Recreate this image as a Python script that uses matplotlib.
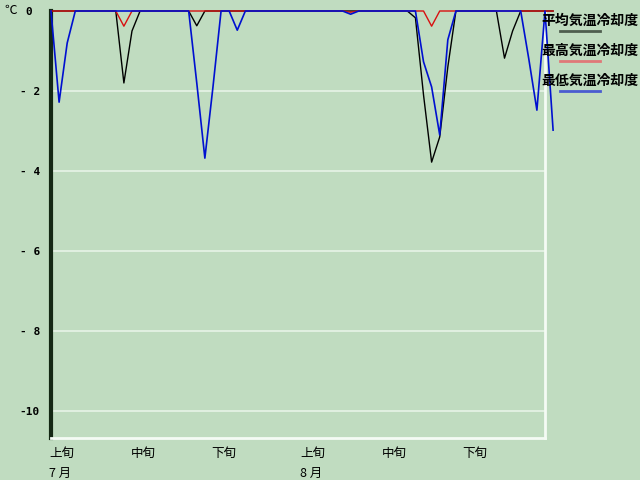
import numpy as np
import matplotlib.pyplot as plt
from matplotlib.lines import Line2D

# day index 0 = 7/1 ... 62 = 9/1
days = np.arange(63)

mean_cool = [0] * 63
mean_cool[9] = -1.8
mean_cool[10] = -0.5
mean_cool[18] = -0.37
mean_cool[45] = -0.17
mean_cool[46] = -2.1
mean_cool[47] = -3.78
mean_cool[48] = -3.15
mean_cool[49] = -1.4
mean_cool[56] = -1.18
mean_cool[57] = -0.5

max_cool = [0] * 63
max_cool[9] = -0.38
max_cool[37] = -0.03
max_cool[47] = -0.38

min_cool = [0] * 63
min_cool[1] = -2.28
min_cool[2] = -0.8
min_cool[18] = -1.8
min_cool[19] = -3.68
min_cool[20] = -1.9
min_cool[23] = -0.48
min_cool[37] = -0.08
min_cool[46] = -1.27
min_cool[47] = -1.9
min_cool[48] = -3.1
min_cool[49] = -0.72
min_cool[59] = -1.2
min_cool[60] = -2.48
min_cool[62] = -2.98

series_names = ['平均気温冷却度', '最高気温冷却度', '最低気温冷却度']
series_colors = ['#000000', '#d81010', '#0010d0']
legend_colors = ['#4e5e4e', '#e07878', '#4a5cd0']

jun_pos = [0, 10, 20, 31, 41, 51]
jun_labels = ['上旬', '中旬', '下旬', '上旬', '中旬', '下旬']
month_pos = [0, 31]
month_labels = ['7 月', '8 月']

yticks = [0, -2, -4, -6, -8, -10]
ytick_labels = ['0 ', '- 2', '- 4', '- 6', '- 8', '-10']

bg = '#c0dcc0'
cjk = ['Noto Sans CJK JP', 'DejaVu Sans']

fig = plt.figure(figsize=(6.4, 4.8), dpi=100, facecolor=bg)
ax = fig.add_axes([51 / 640, 1 - 438 / 480, 494 / 640, 427 / 480])
ax.set_facecolor(bg)

for y in yticks[1:]:
    ax.axhline(y, color='#e4f2e4', linewidth=1.3, zorder=1)

for vals, c, lw in zip([mean_cool, max_cool, min_cool], series_colors, [1.0, 1.0, 1.2]):
    ax.plot(days, vals, color=c, linewidth=lw, clip_on=False, zorder=3)

ax.set_xlim(0, 61)
ax.set_ylim(-10.68, 0)

ax.set_yticks(yticks)
ax.set_yticklabels(ytick_labels, fontfamily='DejaVu Sans Mono', fontweight='bold', fontsize=8)
ax.set_xticks([])
ax.tick_params(axis='y', length=0, pad=8)

for p, lab in zip(jun_pos, jun_labels):
    ax.text(p - 0.2, -0.022, lab, transform=ax.get_xaxis_transform(), ha='left', va='top',
            fontsize=9, family=cjk)
for p, lab in zip(month_pos, month_labels):
    ax.text(p - 0.2, -0.067, lab, transform=ax.get_xaxis_transform(), ha='left', va='top',
            fontsize=9, family=cjk)

ax.spines['top'].set_visible(False)
ax.spines['left'].set_color('#142814')
ax.spines['left'].set_linewidth(3)
ax.spines['bottom'].set_color('#f4fbf4')
ax.spines['bottom'].set_linewidth(2)
ax.spines['right'].set_color('#f4fbf4')
ax.spines['right'].set_linewidth(2)

fig.text(4 / 640, 1 - 10 / 480, '℃', fontsize=9, family=cjk, ha='left', va='center')

# legend drawn by hand at the right side
for i, (name, lc) in enumerate(zip(series_names, legend_colors)):
    ty = 1 - (21 + 30 * i) / 480
    ly = 1 - (31 + 30 * i) / 480
    fig.text(541 / 640, ty, name, fontsize=10, fontweight='bold', family=cjk,
             ha='left', va='center', zorder=5)
    fig.add_artist(Line2D([560 / 640, 600 / 640], [ly, ly], color=lc, linewidth=2))

fig.savefig('out.png', dpi=100, facecolor=bg)
